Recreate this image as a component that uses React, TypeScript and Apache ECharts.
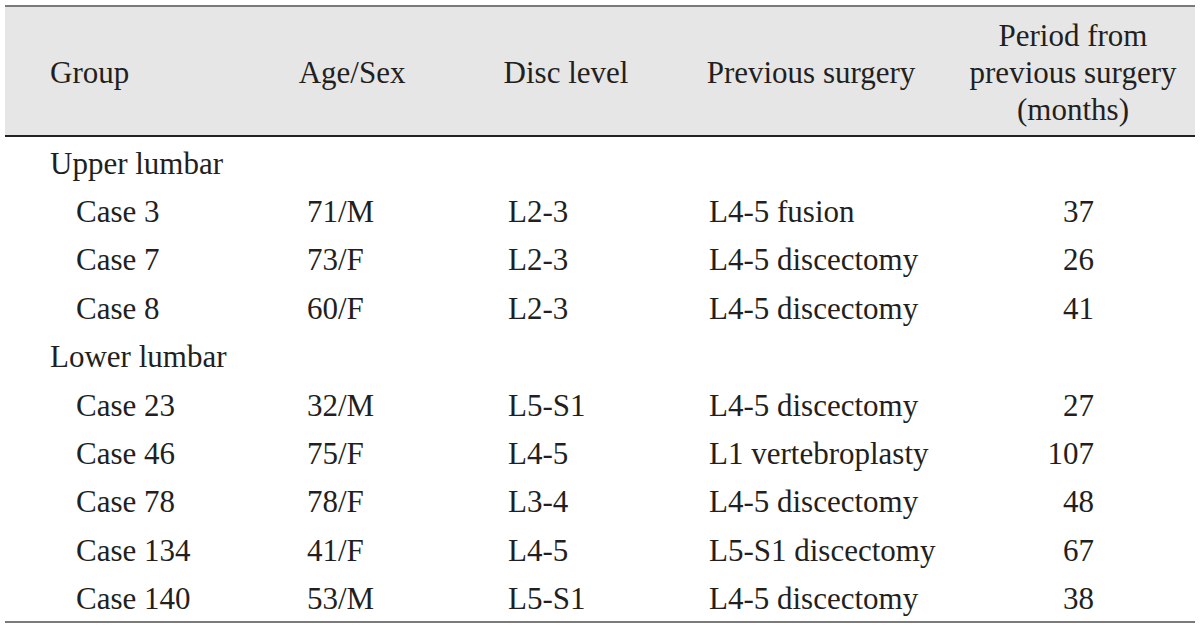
import React, { useEffect, useRef } from "react";
import * as echarts from "echarts";

const headerCols = ["Group", "Age/Sex", "Disc level", "Previous surgery", "Period from\nprevious surgery\n(months)"];
const groupNames = ["Upper lumbar", "Lower lumbar"];
const caseGroup = [0, 0, 0, 1, 1, 1, 1, 1];
const caseNames = ["Case 3", "Case 7", "Case 8", "Case 23", "Case 46", "Case 78", "Case 134", "Case 140"];
const ageSex = ["71/M", "73/F", "60/F", "32/M", "75/F", "78/F", "41/F", "53/M"];
const discLevel = ["L2-3", "L2-3", "L2-3", "L5-S1", "L4-5", "L3-4", "L4-5", "L5-S1"];
const previousSurgery = [
  "L4-5 fusion",
  "L4-5 discectomy",
  "L4-5 discectomy",
  "L4-5 discectomy",
  "L1 vertebroplasty",
  "L4-5 discectomy",
  "L5-S1 discectomy",
  "L4-5 discectomy",
];
const periodMonths = [37, 26, 41, 27, 107, 48, 67, 38];

export default function App() {
  const ref = useRef<HTMLDivElement>(null);
  useEffect(() => {
    document.body.style.margin = "0";
    const chart = echarts.init(ref.current!, undefined, { renderer: "svg" });
    const FONT = "Liberation Serif";
    const SIZE = 31;
    const COLOR = "#231f20";
    const L = 5;
    const R = 1195;
    const els: any[] = [];
    els.push({ type: "rect", shape: { x: L, y: 6, width: R - L, height: 130 }, style: { fill: "#e6e6e6" }, silent: true });
    els.push({ type: "line", shape: { x1: L, y1: 6, x2: R, y2: 6 }, style: { stroke: "#7a7a7a", lineWidth: 2 } });
    els.push({ type: "line", shape: { x1: L, y1: 136, x2: R, y2: 136 }, style: { stroke: "#222", lineWidth: 2 } });
    els.push({ type: "line", shape: { x1: L, y1: 622, x2: R, y2: 622 }, style: { stroke: "#7a7a7a", lineWidth: 2 } });

    const txt = (text: string, x: number, y: number, align: string, lineHeight = 37) => ({
      type: "text",
      x,
      y,
      style: {
        text,
        x: 0,
        y: 0,
        fill: COLOR,
        fontFamily: FONT,
        fontSize: SIZE,
        align,
        verticalAlign: "middle",
        lineHeight,
      },
    });

    const hx = [50, 352, 566, 811, 1073];
    const ha = ["left", "center", "center", "center", "center"];
    headerCols.forEach((h, i) => els.push(txt(h, hx[i], 72, ha[i])));

    const rowStart = 163;
    const step = 48.4;
    let row = 0;
    let lastGroup = -1;
    caseNames.forEach((c, i) => {
      if (caseGroup[i] !== lastGroup) {
        lastGroup = caseGroup[i];
        els.push(txt(groupNames[lastGroup], 50, rowStart + row * step, "left"));
        row++;
      }
      const y = rowStart + row * step;
      els.push(txt(c, 76, y, "left"));
      els.push(txt(ageSex[i], 307, y, "left"));
      els.push(txt(discLevel[i], 508, y, "left"));
      els.push(txt(previousSurgery[i], 709, y, "left"));
      els.push(txt(String(periodMonths[i]), 1094, y, "right"));
      row++;
    });

    chart.setOption({ animation: false, graphic: { elements: els } });
    return () => chart.dispose();
  }, []);
  return <div ref={ref} style={{ width: 1200, height: 629, position: "absolute", left: 0, top: 0, background: "#fff" }} />;
}
